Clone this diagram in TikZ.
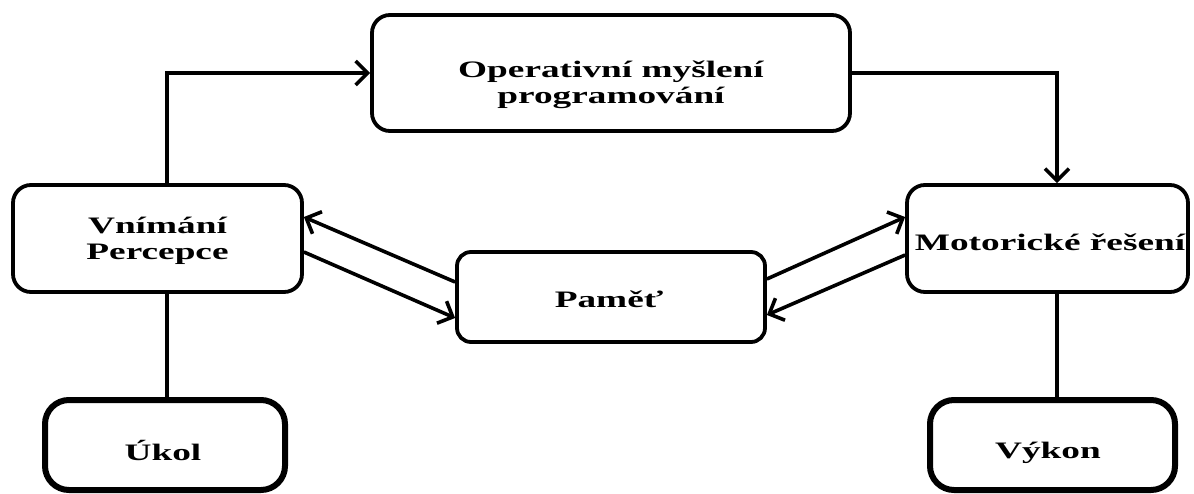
\documentclass[tikz,border=0pt]{standalone}
\usepackage{fontspec}
\setmainfont{Liberation Serif}
\usetikzlibrary{arrows.meta}
\newcommand{\wide}[1]{\scalebox{1.58}[1]{#1}}
\begin{document}
\begin{tikzpicture}[x=0.5pt,y=-0.5pt,
  box/.style={draw,line width=1.9pt,rounded corners=9pt,inner sep=0pt},
  heavybox/.style={draw,line width=3pt,rounded corners=12pt,inner sep=0pt},
  lbl/.style={font=\fontsize{11.8}{13}\selectfont\bfseries,inner sep=0pt},
  conn/.style={line width=1.8pt},
  arr/.style={conn,-{Straight Barb[length=6pt,width=12pt]}}]
\useasboundingbox (0,0) rectangle (1194,493);
% boxes
\node[box,minimum width=239pt,minimum height=58pt] (op) at (611,73) {};
\node[box,minimum width=144.5pt,minimum height=53.5pt] (vn) at (157.5,238.5) {};
\node[box,minimum width=140.5pt,minimum height=53.5pt] (mo) at (1047.5,238.5) {};
\node[box,rounded corners=7pt,minimum width=154pt,minimum height=45pt] (pm) at (611,297) {};
\node[heavybox,minimum width=120pt,minimum height=45pt] (uk) at (165,445) {};
\node[heavybox,minimum width=122.5pt,minimum height=45pt] (vy) at (1052.5,445) {};
% labels
\node[lbl] (opt) at (611,84.8) {\wide{\begin{tabular}{@{}c@{}}Operativní myšlení\\programování\end{tabular}}};
\node[lbl] (vnt) at (157.5,240.8) {\wide{\begin{tabular}{@{}c@{}}Vnímání\\Percepce\end{tabular}}};
\node[lbl,anchor=base] (mot) at (1050,250) {\wide{Motorické řešení}};
\node[lbl,anchor=base] (pmt) at (609,307) {\wide{Paměť}};
\node[lbl,anchor=base] (ukt) at (163,460) {\wide{Úkol}};
\node[lbl,anchor=base] (vyt) at (1048,458) {\wide{Výkon}};
% connector columns
\coordinate (c1) at (167,73);
\coordinate (c2) at (1057,73);
% connectors
\draw[arr] (vn.north -| c1) |- (op.west);
\draw[arr] (op.east) -| (mo.north -| c2);
\draw[conn] (vn.south -| c1) -- (uk.north -| c1);
\draw[conn] (mo.south -| c2) -- (vy.north -| c2);
\draw[arr] ([yshift=7.5pt]pm.west) -- ([yshift=10.75pt]vn.east);
\draw[arr] ([yshift=-6.75pt]vn.east) -- ([yshift=-10.5pt]pm.west);
\draw[arr] ([yshift=9pt]pm.east) -- ([yshift=10.75pt]mo.west);
\draw[arr] ([yshift=-8.25pt]mo.west) -- ([yshift=-9pt]pm.east);
\end{tikzpicture}
\end{document}
